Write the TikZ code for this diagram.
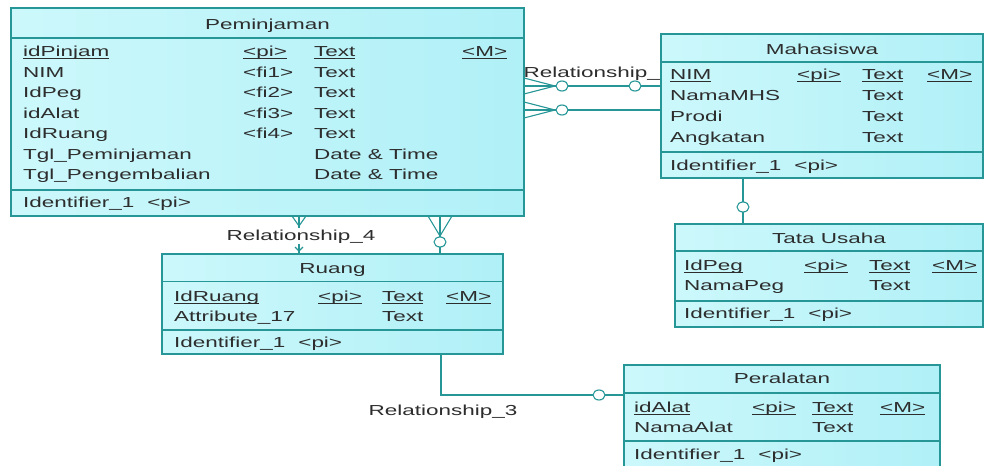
\documentclass[tikz,border=0pt]{standalone}
\usepackage{fontspec}
\setmainfont{Liberation Sans}[FakeStretch=1.55]
\usetikzlibrary{shapes.geometric,calc}
\definecolor{lineC}{RGB}{38,150,150}
\definecolor{fillL}{RGB}{204,248,251}
\definecolor{fillR}{RGB}{176,240,247}
\definecolor{textC}{RGB}{45,45,45}
% underline kept close to the baseline, as in the entity tables
\newcommand\ul[1]{\setbox0\hbox{#1}\rlap{\rule[-2.4pt]{\wd0}{0.8pt}}\box0}
\tikzset{
  frame/.style={anchor=north west, inner sep=0pt, outer sep=0pt},
  ent/.style={draw=lineC, left color=fillL, right color=fillR, line width=1.1pt},
  sepl/.style={draw=lineC, line width=1.1pt},
  conn/.style={draw=lineC, line width=1.1pt},
  opt/.style={draw=lineC, fill=white, line width=1.1pt, ellipse, inner sep=0pt, minimum width=12pt, minimum height=10pt},
  txt/.style={anchor=base west, inner sep=0pt, text=textC, font=\fontsize{14.5}{16}\selectfont},
  ttl/.style={txt, anchor=base},
  rel/.style={txt, anchor=base, fill=white, inner sep=1pt},
}
\begin{document}
\begin{tikzpicture}[x=1pt, y=-1pt]
\clip (0,0) rectangle (986,466);
\fill[white] (0,0) rectangle (986,466);

% label of the Peminjaman--Mahasiswa link (partly under the table)
\node[txt, anchor=base east] (l1) at (660,77) {Relationship\_};

% ---------- entity frames (placed first, drawn after the links) ----------
\path
  node[frame, minimum width=513pt, minimum height=208pt] (pem) at (11,8) {}
  node[frame, minimum width=322pt, minimum height=144pt] (mhs) at (661,34) {}
  node[frame, minimum width=308pt, minimum height=103pt] (tu)  at (675,224) {}
  node[frame, minimum width=341pt, minimum height=100pt] (ru)  at (162,254) {}
  node[frame, minimum width=316pt, minimum height=106pt] (pe)  at (624,365) {};

% ---------- links ----------
% Peminjaman -- Mahasiswa
\coordinate (a1) at (pem.east |- 0,86);
\coordinate (b1) at (mhs.west |- 0,86);
\draw[conn] (a1) -- (b1);
\draw[conn] (a1) ++(0,-8) -- ++(31,8) -- ++(-31,8);
\node[opt] (o1) at ($(a1)+(38,0)$) {};
\node[opt] (o2) at ($(b1)+(-26,0)$) {};

% Peminjaman -- Tata Usaha (passes under Mahasiswa)
\coordinate (a2) at (pem.east |- 0,110);
\coordinate (b2) at (tu.north -| 743,0);
\draw[conn] (a2) -| (b2);
\draw[conn] (a2) ++(0,-8) -- ++(31,8) -- ++(-31,8);
\node[opt] (o3) at ($(a2)+(38,0)$) {};
\node[opt] (o4) at ($(b2)+(0,-17)$) {};

% Peminjaman -- Ruang
\coordinate (c1) at (pem.south -| 299,0);
\coordinate (d1) at (ru.north -| 299,0);
\draw[conn] (c1) -- (d1);
\draw[conn] (c1) ++(-7,0) -- ++(7,10) -- ++(7,-10);
\draw[conn] (d1) ++(-4,-7) -- ++(4,4) -- ++(4,-4);
\node[rel] (l4) at (301,240) {Relationship\_4};

\coordinate (c2) at (pem.south -| 440,0);
\coordinate (d2) at (ru.north -| 440,0);
\draw[conn] (c2) -- (d2);
\draw[conn] (c2) ++(-12,0) -- ++(12,20) -- ++(12,-20);
\node[opt] (o5) at ($(c2)+(0,26)$) {};

% Ruang -- Peralatan
\coordinate (e1) at (ru.south -| 441,0);
\coordinate (f1) at (pe.west |- 0,395);
\draw[conn] (e1) |- (f1);
\node[opt] (o6) at ($(f1)+(-25,0)$) {};
\node[txt, anchor=base] (l3) at (443,415) {Relationship\_3};

% ---------- tables ----------
% Peminjaman
\draw[ent] (pem.north west) rectangle (pem.south east);
\draw[sepl] (pem.west |- 0,38) -- (pem.east |- 0,38);
\draw[sepl] (pem.west |- 0,190) -- (pem.east |- 0,190);
\node[ttl] (pemT) at (pem.north |- 0,29) {Peminjaman};
\node[txt] (p1a) at (23,56.7) {\ul{idPinjam}};
\node[txt] (p1b) at (243,56.7) {\ul{<pi>}};
\node[txt] (p1c) at (314,56.7) {\ul{Text}};
\node[txt] (p1d) at (462,56.7) {\ul{<M>}};
\node[txt] (p2a) at (23,77.2) {NIM};
\node[txt] (p2b) at (243,77.2) {<fi1>};
\node[txt] (p2c) at (314,77.2) {Text};
\node[txt] (p3a) at (23,97.7) {IdPeg};
\node[txt] (p3b) at (243,97.7) {<fi2>};
\node[txt] (p3c) at (314,97.7) {Text};
\node[txt] (p4a) at (23,118.2) {idAlat};
\node[txt] (p4b) at (243,118.2) {<fi3>};
\node[txt] (p4c) at (314,118.2) {Text};
\node[txt] (p5a) at (23,138.7) {IdRuang};
\node[txt] (p5b) at (243,138.7) {<fi4>};
\node[txt] (p5c) at (314,138.7) {Text};
\node[txt] (p6a) at (23,159.2) {Tgl\_Peminjaman};
\node[txt] (p6c) at (314,159.2) {Date \& Time};
\node[txt] (p7a) at (23,179.7) {Tgl\_Pengembalian};
\node[txt] (p7c) at (314,179.7) {Date \& Time};
\node[txt] (pId) at (23,207.5) {Identifier\_1\hspace{13pt}<pi>};

% Mahasiswa
\draw[ent] (mhs.north west) rectangle (mhs.south east);
\draw[sepl] (mhs.west |- 0,62) -- (mhs.east |- 0,62);
\draw[sepl] (mhs.west |- 0,152) -- (mhs.east |- 0,152);
\node[ttl] (mhsT) at (mhs.north |- 0,54) {Mahasiswa};
\node[txt] (m1a) at (670,79.7) {\ul{NIM}};
\node[txt] (m1b) at (797,79.7) {\ul{<pi>}};
\node[txt] (m1c) at (862,79.7) {\ul{Text}};
\node[txt] (m1d) at (927,79.7) {\ul{<M>}};
\node[txt] (m2a) at (670,100.7) {NamaMHS};
\node[txt] (m2c) at (862,100.7) {Text};
\node[txt] (m3a) at (670,121.7) {Prodi};
\node[txt] (m3c) at (862,121.7) {Text};
\node[txt] (m4a) at (670,142.7) {Angkatan};
\node[txt] (m4c) at (862,142.7) {Text};
\node[txt] (mId) at (670,170.7) {Identifier\_1\hspace{13pt}<pi>};

% Tata Usaha
\draw[ent] (tu.north west) rectangle (tu.south east);
\draw[sepl] (tu.west |- 0,251) -- (tu.east |- 0,251);
\draw[sepl] (tu.west |- 0,301) -- (tu.east |- 0,301);
\node[ttl] (tuT) at (tu.north |- 0,243.2) {Tata Usaha};
\node[txt] (t1a) at (684,270.2) {\ul{IdPeg}};
\node[txt] (t1b) at (804,270.2) {\ul{<pi>}};
\node[txt] (t1c) at (869,270.2) {\ul{Text}};
\node[txt] (t1d) at (932,270.2) {\ul{<M>}};
\node[txt] (t2a) at (684,290.2) {NamaPeg};
\node[txt] (t2c) at (869,290.2) {Text};
\node[txt] (tId) at (684,318) {Identifier\_1\hspace{13pt}<pi>};

% Ruang
\draw[ent] (ru.north west) rectangle (ru.south east);
\draw[sepl] (ru.west |- 0,281.5) -- (ru.east |- 0,281.5);
\draw[sepl] (ru.west |- 0,330) -- (ru.east |- 0,330);
\node[ttl] (ruT) at (ru.north |- 0,273.5) {Ruang};
\node[txt] (r1a) at (174,301.2) {\ul{IdRuang}};
\node[txt] (r1b) at (318,301.2) {\ul{<pi>}};
\node[txt] (r1c) at (382,301.2) {\ul{Text}};
\node[txt] (r1d) at (446,301.2) {\ul{<M>}};
\node[txt] (r2a) at (174,321) {Attribute\_17};
\node[txt] (r2c) at (382,321) {Text};
\node[txt] (rId) at (174,347) {Identifier\_1\hspace{13pt}<pi>};

% Peralatan
\draw[ent] (pe.north west) rectangle (pe.south east);
\draw[sepl] (pe.west |- 0,393) -- (pe.east |- 0,393);
\draw[sepl] (pe.west |- 0,441) -- (pe.east |- 0,441);
\node[ttl] (peT) at (pe.north |- 0,383.7) {Peralatan};
\node[txt] (e1a) at (634,412.2) {\ul{idAlat}};
\node[txt] (e1b) at (752,412.2) {\ul{<pi>}};
\node[txt] (e1c) at (812,412.2) {\ul{Text}};
\node[txt] (e1d) at (880,412.2) {\ul{<M>}};
\node[txt] (e2a) at (634,432.2) {NamaAlat};
\node[txt] (e2c) at (812,432.2) {Text};
\node[txt] (eId) at (634,459) {Identifier\_1\hspace{13pt}<pi>};
\end{tikzpicture}
\end{document}
